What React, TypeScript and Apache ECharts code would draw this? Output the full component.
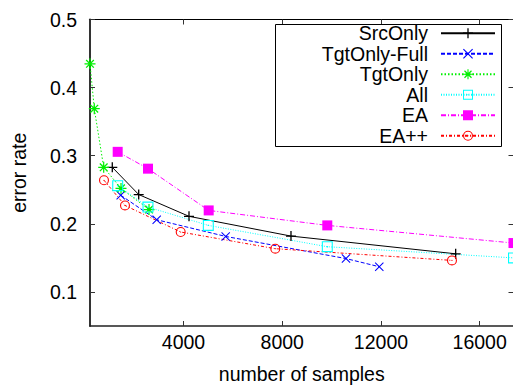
import React, { useEffect, useRef } from "react";
import * as echarts from "echarts";

const seriesNames = ["SrcOnly", "TgtOnly-Full", "TgtOnly", "All", "EA", "EA++"];

const srcOnlyX = [1115, 2185, 4223, 8355, 15027];
const srcOnlyY = [0.283, 0.243, 0.211, 0.182, 0.156];

const tgtFullX = [1456, 2914, 5709, 10583, 11932];
const tgtFullY = [0.242, 0.206, 0.1815, 0.149, 0.137];

const tgtOnlyX = [212, 386, 767, 1468, 2603];
const tgtOnlyY = [0.435, 0.369, 0.283, 0.252, 0.221];

const allX = [1334, 2562, 5005, 9826, 17370];
const allY = [0.256, 0.2246, 0.1977, 0.1664, 0.15];

const eaX = [1334, 2562, 5021, 9826, 17370];
const eaY = [0.3057, 0.281, 0.2197, 0.1977, 0.1718];

const eappX = [779, 1630, 3886, 7719, 14877];
const eappY = [0.264, 0.227, 0.188, 0.1635, 0.1463];

const xTicks = [4000, 8000, 12000, 16000];
const yTicks = [0.1, 0.2, 0.3, 0.4, 0.5];

const PLUS =
  "path://M4.35,0L5.65,0L5.65,4.35L10,4.35L10,5.65L5.65,5.65L5.65,10L4.35,10L4.35,5.65L0,5.65L0,4.35L4.35,4.35Z";
const CROSS =
  "path://M0.8,0L10,9.2L9.2,10L0,0.8ZM9.2,0L10,0.8L0.8,10L0,9.2Z";
const STAR =
  "path://M4.45,0L5.55,0L5.55,10L4.45,10ZM0,4.45L10,4.45L10,5.55L0,5.55ZM1.92,1.08L8.92,8.08L8.08,8.92L1.08,1.92ZM8.08,1.08L8.92,1.92L1.92,8.92L1.08,8.08Z";
const BOXDOT =
  "path://M0,0L10,0L10,10L0,10ZM1,1L1,9L9,9L9,1ZM4.4,4.4L5.6,4.4L5.6,5.6L4.4,5.6Z";
const CIRCDOT =
  "path://M5,0A5,5 0 1 1 5,10A5,5 0 1 1 5,0ZM5,1.1A3.9,3.9 0 1 0 5,8.9A3.9,3.9 0 1 0 5,1.1ZM5,4.4A0.6,0.6 0 1 1 5,5.6A0.6,0.6 0 1 1 5,4.4Z";

const FONT = "Liberation Sans, Arial, sans-serif";

function zip(xs: number[], ys: number[]) {
  return xs.map((x, i) => [x, ys[i]]);
}

export default function App() {
  const ref = useRef<HTMLDivElement>(null);
  useEffect(() => {
    if (!ref.current) return;
    const chart = echarts.init(ref.current, undefined, { renderer: "svg" });
    const mk = (
      name: string,
      xs: number[],
      ys: number[],
      color: string,
      symbol: string,
      size: number,
      dash: any
    ) => ({
      name,
      type: "line",
      data: zip(xs, ys),
      symbol,
      symbolSize: size,
      showAllSymbol: true,
      clip: false,
      itemStyle: { color, borderWidth: 0 },
      lineStyle: { color, width: 1, type: dash },
      emphasis: { disabled: true },
    });
    chart.setOption({
      animation: false,
      grid: {
        left: 90,
        top: 19.5,
        right: 6.5,
        bottom: 59,
        containLabel: false,
        outerBoundsMode: "none",
      },
      legend: {
        orient: "vertical",
        align: "right",
        right: 24,
        top: 23,
        padding: 0,
        itemGap: 0,
        itemWidth: 54,
        itemHeight: 12.5,
        data: seriesNames,
        selectedMode: false,
        textStyle: {
          fontSize: 19.5,
          fontFamily: FONT,
          color: "#000",
          lineHeight: 20.5,
          padding: [0, 8, 0, 0],
        },
      },
      graphic: [
        {
          type: "rect",
          shape: { x: 275.5, y: 24.5, width: 226, height: 122 },
          style: { fill: "none", stroke: "#000", lineWidth: 1 },
          z: 100,
        },
      ],
      xAxis: [
        {
          type: "value",
          position: "bottom",
          min: 212,
          max: 17370,
          splitLine: { show: false },
          axisLine: { lineStyle: { color: "#222", width: 1.5 } },
          axisTick: { inside: true, length: 5, customValues: xTicks, lineStyle: { color: "#333" } },
          axisLabel: {
            customValues: xTicks,
            formatter: (v: number) => String(v),
            fontSize: 19.5,
            fontFamily: FONT,
            color: "#000",
            margin: 6,
          },
          name: "number of samples",
          nameLocation: "middle",
          nameGap: 38,
          nameTextStyle: { fontSize: 19.5, fontFamily: FONT, color: "#000" },
        },
        {
          type: "value",
          position: "top",
          min: 212,
          max: 17370,
          splitLine: { show: false },
          axisLine: { lineStyle: { color: "#000", width: 1 } },
          axisTick: { inside: true, length: 5, customValues: xTicks, lineStyle: { color: "#333" } },
          axisLabel: { show: false },
        },
      ],
      yAxis: [
        {
          type: "value",
          position: "left",
          min: 0.05,
          max: 0.5,
          splitLine: { show: false },
          axisLine: { show: true, lineStyle: { color: "#333", width: 2 } },
          axisTick: { show: true, inside: true, length: 5, customValues: yTicks, lineStyle: { color: "#333" } },
          axisLabel: {
            customValues: yTicks,
            formatter: (v: number) => v.toFixed(1),
            fontSize: 19.5,
            fontFamily: FONT,
            color: "#000",
            margin: 13,
          },
          name: "error rate",
          nameLocation: "middle",
          nameGap: 61,
          nameTextStyle: { fontSize: 19.5, fontFamily: FONT, color: "#000" },
        },
        {
          type: "value",
          position: "right",
          min: 0.05,
          max: 0.5,
          splitLine: { show: false },
          axisLine: { show: true, lineStyle: { color: "#000", width: 1 } },
          axisTick: { show: true, inside: true, length: 5, customValues: yTicks, lineStyle: { color: "#333" } },
          axisLabel: { show: false },
        },
      ],
      series: [
        mk("SrcOnly", srcOnlyX, srcOnlyY, "#000000", PLUS, 10, "solid"),
        mk("TgtOnly-Full", tgtFullX, tgtFullY, "#0000ff", CROSS, 9, [4, 2]),
        mk("TgtOnly", tgtOnlyX, tgtOnlyY, "#00f000", STAR, 11, [1.5, 2]),
        mk("All", allX, allY, "#00ffff", BOXDOT, 11, [1, 1.5]),
        mk("EA", eaX, eaY, "#ff00ff", "rect", 10, [5, 2, 1, 2]),
        mk("EA++", eappX, eappY, "#ff0000", CIRCDOT, 10, [3, 2, 1, 2]),
      ],
    });
    return () => chart.dispose();
  }, []);
  return (
    <div
      ref={ref}
      style={{ position: "fixed", left: 0, top: 0, width: 520, height: 385, background: "#fff" }}
    />
  );
}
